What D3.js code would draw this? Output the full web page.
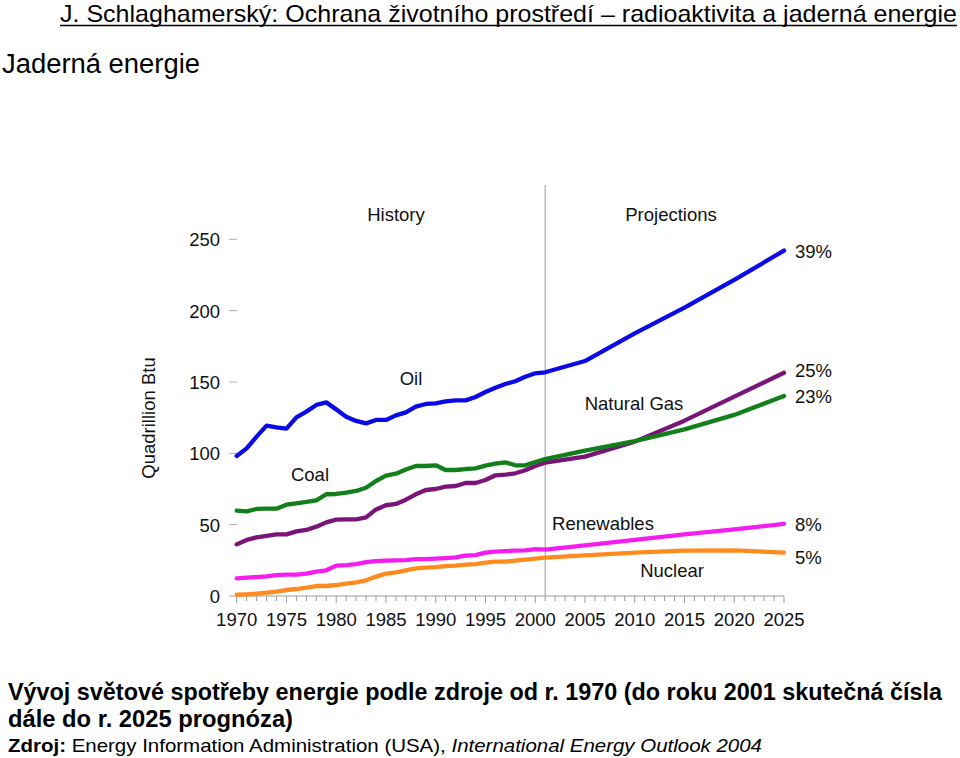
<!DOCTYPE html>
<html><head><meta charset="utf-8">
<script src="https://cdn.jsdelivr.net/npm/d3@7"></script>
<style>
body{margin:0;background:#fff;}
svg{display:block;}
</style></head>
<body>
<svg id="c" width="960" height="758"></svg>
<script>
const years = [1970,1971,1972,1973,1974,1975,1976,1977,1978,1979,1980,1981,1982,1983,1984,1985,1986,1987,1988,1989,1990,1991,1992,1993,1994,1995,1996,1997,1998,1999,2000,2001,2005,2010,2015,2020,2025];
const oil = [98.1,103.5,111.7,119.4,118.2,117.3,125.2,129.2,133.9,135.7,130.8,125.7,122.7,121,123.4,123.4,126.6,128.7,132.7,134.6,135,136.4,137.1,137.1,139.5,143,146,148.6,150.5,153.7,156.1,156.8,164.7,184.1,202.1,221.5,242.1];
const coal = [59.8,59.3,61,61.2,61.2,64,65,65.9,67,71.3,71.5,72.4,73.6,75.9,80.6,84.3,85.7,88.6,91.1,91.1,91.6,88.3,88.3,89,89.5,91.4,92.8,93.7,91.6,91.6,93.9,96,101.9,108.6,116.8,126.9,140.2];
const gas = [36.2,39.3,41.1,42.1,43.2,43.2,45.3,46.3,48.6,51.6,53.5,53.7,53.7,55.1,60.7,63.6,64.5,67.5,71.3,74.3,75,76.6,77.1,79.2,79.2,81.3,84.6,85,86,88.1,91.1,93.5,97.7,108.2,122.9,139.7,156.5];
const renewables = [12.4,12.9,13.3,13.8,14.7,15,15,15.7,17.1,18,21.3,21.7,22.4,23.8,24.5,24.8,25,25.2,25.9,25.9,26.2,26.6,27.1,28.3,28.7,30.4,31.1,31.5,31.8,32,32.9,32.5,35.5,39.3,43.2,46.7,50.5];
const nuclear = [0.9,1.2,1.6,2.3,3,4.2,4.9,5.8,7,7,7.7,8.6,9.6,11,13.6,15.7,16.6,18,19.4,19.9,20.3,21,21.3,22,22.4,23.4,24.1,24.1,24.8,25.5,26.2,26.9,28.5,30.4,31.8,32,30.4];
const seriesNames = ["Oil","Coal","Natural Gas","Renewables","Nuclear"];
const shares = ["39%","23%","25%","8%","5%"];
const yTicks = [0,50,100,150,200,250];
const xTickLabels = [1970,1975,1980,1985,1990,1995,2000,2005,2010,2015,2020,2025];
const dividerYear = 2001;

const svg = d3.select("#c");
const font = "'Liberation Sans', Arial, sans-serif";
const narrow = "'Liberation Sans Narrow', 'Liberation Sans', Arial, sans-serif";
const fs = 18.5;

const x = d3.scaleLinear().domain([1970,2025]).range([236.7,784]);
const y = d3.scaleLinear().domain([0,250]).range([596,239.3]);

// Title
svg.append("text").attr("x",60).attr("y",22).attr("font-family",narrow).attr("font-size",24)
  .attr("textLength",897).attr("lengthAdjust","spacingAndGlyphs").attr("fill","#000")
  .text("J. Schlaghamerský: Ochrana životního prostředí – radioaktivita a jaderná energie");
svg.append("line").attr("x1",60).attr("x2",957).attr("y1",25.5).attr("y2",25.5).attr("stroke","#000").attr("stroke-width",1.6);
svg.append("text").attr("x",2).attr("y",73).attr("font-family",narrow).attr("font-size",27)
  .attr("textLength",198).attr("lengthAdjust","spacingAndGlyphs").text("Jaderná energie");

// Y ticks
const gy = svg.append("g");
yTicks.forEach(t=>{
  gy.append("line").attr("x1",229).attr("x2",237).attr("y1",y(t)).attr("y2",y(t)).attr("stroke","#aaa").attr("stroke-width",1);
  gy.append("text").attr("x",220).attr("y",y(t)+7).attr("text-anchor","end").attr("font-family",font).attr("font-size",fs).attr("fill","#111").text(t);
});
svg.append("text").attr("transform",`translate(155,418) rotate(-90)`).attr("text-anchor","middle")
  .attr("font-family",font).attr("font-size",fs).attr("fill","#111").text("Quadrillion Btu");

// X axis
const gx = svg.append("g").attr("transform",`translate(0,${y(0)})`);
gx.append("line").attr("x1",x(1970)).attr("x2",x(2025)).attr("stroke","#999").attr("stroke-width",1);
d3.range(1970,2026).forEach(yr=>{
  const major = yr%5===0;
  gx.append("line").attr("x1",x(yr)).attr("x2",x(yr)).attr("y1",0).attr("y2",major?7:5).attr("stroke","#999").attr("stroke-width",1);
});
xTickLabels.forEach(yr=>{
  gx.append("text").attr("x",x(yr)).attr("y",30).attr("text-anchor","middle").attr("font-family",font).attr("font-size",fs).attr("fill","#111").text(yr);
});

// Divider
svg.append("line").attr("x1",x(dividerYear)).attr("x2",x(dividerYear)).attr("y1",185).attr("y2",y(0)).attr("stroke","#999").attr("stroke-width",1);

// Lines
const data = [oil,coal,gas,renewables,nuclear];
const colors = ["#0a0ae6","#12801a","#7a1478","#f51cf0","#ff8a1e"];
const line = d3.line().x((d,i)=>x(years[i])).y(d=>y(d));
[4,3,2,1,0].forEach(k=>{
  svg.append("path").datum(data[k]).attr("d",line).attr("fill","none").attr("stroke",colors[k])
    .attr("stroke-width",4.3).attr("stroke-linejoin","round").attr("stroke-linecap","round");
});

// Labels
const lab = (t,xx,yy,anchor="middle")=>svg.append("text").attr("x",xx).attr("y",yy).attr("text-anchor",anchor)
  .attr("font-family",font).attr("font-size",fs).attr("fill","#111").text(t);
lab("History",396,221);
lab("Projections",671,221);
lab(seriesNames[0],411,385);
lab(seriesNames[1],310,481);
lab(seriesNames[2],634,410);
lab(seriesNames[3],603,530);
lab(seriesNames[4],672,577);
lab(shares[0],795,258,"start");
lab(shares[2],795,377,"start");
lab(shares[1],795,403,"start");
lab(shares[3],795,531,"start");
lab(shares[4],795,564,"start");

// Bottom captions
svg.append("text").attr("x",8).attr("y",700).attr("font-family",narrow).attr("font-weight","bold").attr("font-size",23)
  .attr("textLength",934).attr("lengthAdjust","spacingAndGlyphs")
  .text("Vývoj světové spotřeby energie podle zdroje od r. 1970 (do roku 2001 skutečná čísla");
svg.append("text").attr("x",8).attr("y",727).attr("font-family",narrow).attr("font-weight","bold").attr("font-size",23)
  .attr("textLength",285).attr("lengthAdjust","spacingAndGlyphs")
  .text("dále do r. 2025 prognóza)");
const src = svg.append("text").attr("x",8).attr("y",752).attr("font-family",narrow).attr("font-size",19)
  .attr("textLength",754).attr("lengthAdjust","spacingAndGlyphs");
src.append("tspan").attr("font-weight","bold").text("Zdroj:");
src.append("tspan").text(" Energy Information Administration (USA), ");
src.append("tspan").attr("font-style","italic").text("International Energy Outlook 2004");
</script>
</body></html>
